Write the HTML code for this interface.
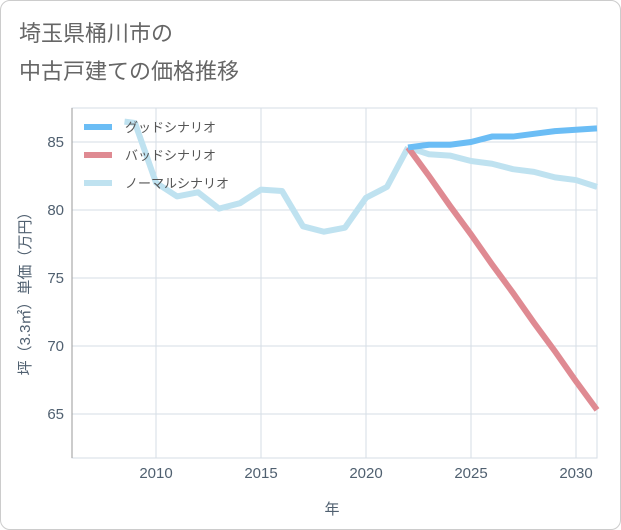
<!DOCTYPE html>
<html><head><meta charset="utf-8"><style>
body{margin:0;background:#fff;font-family:"Liberation Sans","Noto Sans CJK JP",sans-serif}
.wrap{position:relative;width:619px;height:528px;border:1px solid #ccc;border-radius:10px;overflow:hidden}
.title{position:absolute;left:18px;top:14px;font-size:22px;line-height:38px;color:#666}
</style></head><body>
<div class="wrap">
<div class="title">埼玉県桶川市の<br>中古戸建ての価格推移</div>
<svg id="c" width="621" height="530" style="position:absolute;left:-1px;top:-1px"></svg>
</div>
<script>
const histYears=[2008.5,2009,2010,2011,2012,2013,2014,2015,2016,2017,2018,2019,2020,2021,2022];
const histVals=[86.5,86.4,82.0,81.0,81.3,80.1,80.5,81.5,81.4,78.8,78.4,78.7,80.9,81.7,84.6];
const futYears=[2022,2023,2024,2025,2026,2027,2028,2029,2030,2031];
const goodVals=[84.6,84.8,84.8,85.0,85.4,85.4,85.6,85.8,85.9,86.0];
const badVals=[84.6,82.5,80.3,78.2,76.0,73.9,71.7,69.6,67.4,65.3];
const normVals=[84.6,84.1,84.0,83.6,83.4,83.0,82.8,82.4,82.2,81.7];
const xTicks=[2010,2015,2020,2025,2030];
const yTicks=[65,70,75,80,85];
const X0=72,X1=597,Y0=108,Y1=458,xmin=2006,xmax=2031,ymin=61.76,ymax=87.5;
const sx=v=>X0+(v-xmin)/(xmax-xmin)*(X1-X0);
const sy=v=>Y1-(v-ymin)/(ymax-ymin)*(Y1-Y0);
const svg=document.getElementById('c');const NS='http://www.w3.org/2000/svg';
function mk(t,a,p){const e=document.createElementNS(NS,t);for(const k in a)e.setAttribute(k,a[k]);(p||svg).appendChild(e);return e;}
const g=mk('g',{});


mk('rect',{x:X0,y:Y0,width:X1-X0,height:Y1-Y0,fill:'none',stroke:'#d6dde6'},g);
xTicks.forEach(t=>{mk('line',{x1:sx(t),x2:sx(t),y1:Y0,y2:Y1,stroke:'#d6dde6'},g);
const l=mk('text',{x:sx(t),y:478,'text-anchor':'middle','font-size':15,fill:'#506070'});l.textContent=t;

});
yTicks.forEach(t=>{mk('line',{x1:X0,x2:X1,y1:sy(t),y2:sy(t),stroke:'#d6dde6'},g);
const l=mk('text',{x:64,y:sy(t)+5,'text-anchor':'end','font-size':15,fill:'#506070'});l.textContent=t;

});
mk('line',{x1:X0,x2:X0,y1:Y0,y2:Y1,stroke:'#999'});
function line(xs,ys,c,n){const p=mk('polyline',{points:xs.map((x,i)=>sx(x)+','+sy(ys[i])).join(' '),fill:'none',stroke:c,'stroke-width':6,'stroke-linejoin':'round'});

}
line(histYears,histVals,'#bfe2f0','normal-history-line');
line(futYears,normVals,'#bfe2f0','normal-scenario-line');
line(futYears,badVals,'#df8a92','bad-scenario-line');
line(futYears,goodVals,'#6bbdf5','good-scenario-line');
[['グッドシナリオ','#6bbdf5',127],['バッドシナリオ','#df8a92',155],['ノーマルシナリオ','#bfe2f0',183]].forEach(([t,c,y])=>{
const lg=mk('g',{});


mk('line',{x1:84,x2:112,y1:y,y2:y,stroke:c,'stroke-width':6},lg);
const tx=mk('text',{x:125,y:y+5,'font-size':13,fill:'#555'},lg);tx.textContent=t;});
const yt=mk('text',{transform:'translate(30,290) rotate(-90)','text-anchor':'middle','font-size':15,fill:'#506070'});yt.textContent='坪（3.3㎡）単価（万円）';


const xt=mk('text',{x:332,y:514,'text-anchor':'middle','font-size':15,fill:'#506070'});xt.textContent='年';


</script>
</body></html>
